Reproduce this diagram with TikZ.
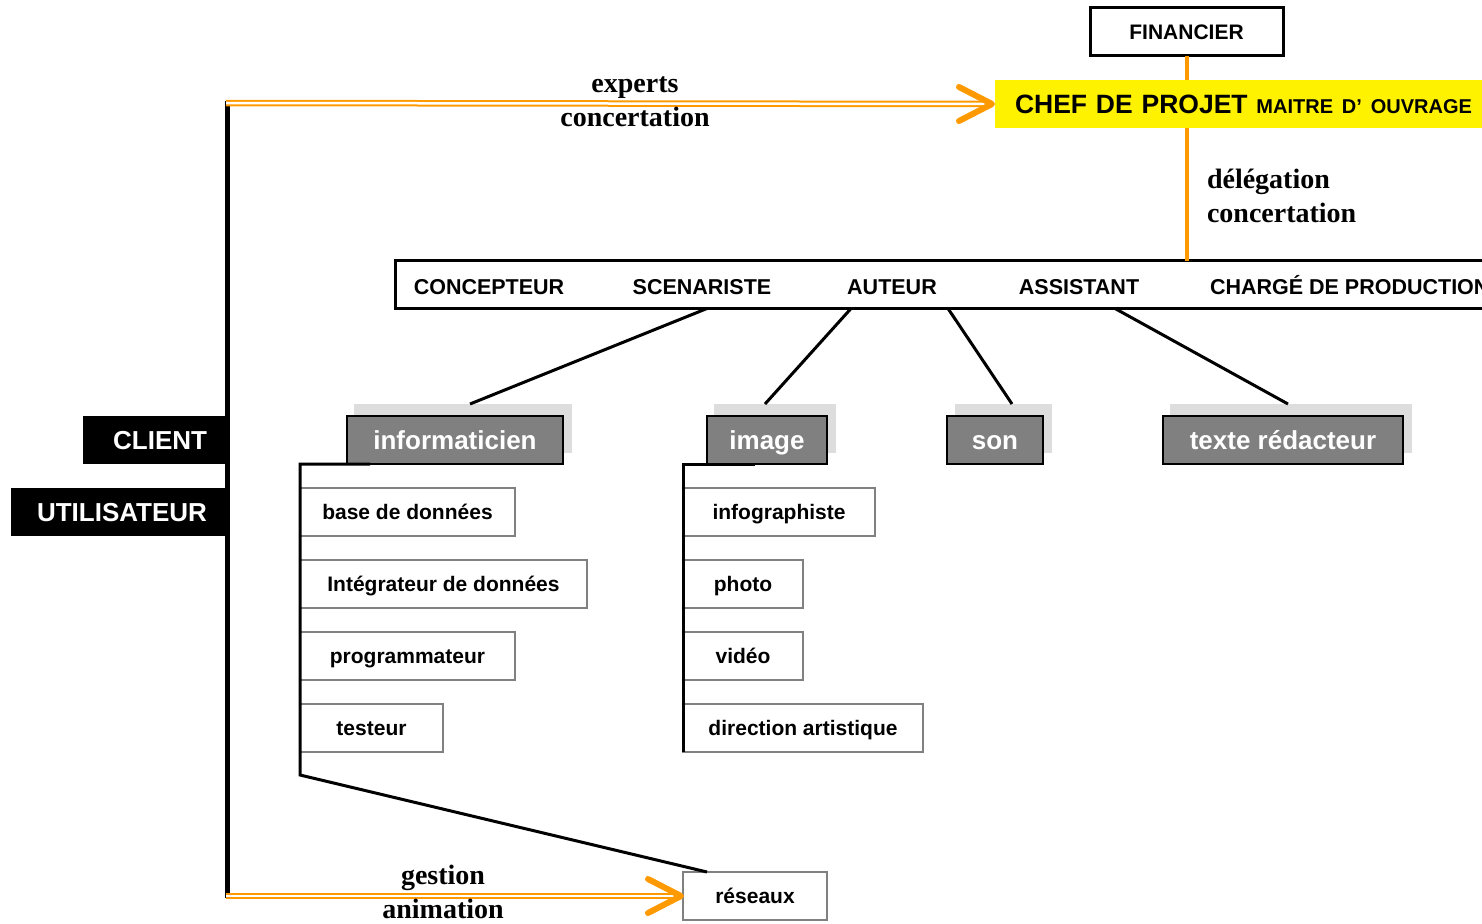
\documentclass[tikz,border=0pt]{standalone}
\usepackage{fontspec}
\setmainfont{Liberation Serif}
\setsansfont{Liberation Sans}
\definecolor{arrorange}{RGB}{255,153,0}
\definecolor{headgray}{RGB}{128,128,128}
\definecolor{shadowgray}{RGB}{221,221,221}
\definecolor{boxgray}{RGB}{128,128,128}
\begin{document}
\begin{tikzpicture}[x=1pt,y=-1pt,
  every node/.style={inner sep=0pt, outer sep=0pt},
  sansfont/.style={font=\sffamily\bfseries\fontsize{#1}{#1}\selectfont, text depth=0pt},
  blackbox/.style={fill=black, text=white, minimum height=48pt, sansfont=26, text height=19pt, align=right},
  topbox/.style={draw=black, line width=3pt, fill=white, minimum height=48pt, sansfont=21, text height=15.3pt},
  rolebar/.style={draw=black, line width=3pt, fill=white, minimum height=48pt},
  roletext/.style={sansfont=21.5, text height=15.7pt},
  headbox/.style={draw=black, line width=1.5pt, fill=headgray, text=white, minimum height=48pt, sansfont=26, text height=19pt},
  headshadow/.style={fill=shadowgray, minimum height=49pt},
  subbox/.style={draw=boxgray, line width=2pt, fill=white, minimum height=48pt, sansfont=21, text height=15.3pt},
  flowlabel/.style={font=\rmfamily\bfseries\fontsize{28}{30}\selectfont, text height=19.6pt, text depth=7pt},
  link/.style={draw=black, line width=3pt},
  spine/.style={draw=black, line width=5pt},
  orangelink/.style={draw=arrorange, line width=2pt, double=white, double distance=2.5pt},
  chevron/.style={draw=arrorange, line width=6pt, line cap=round, line join=round},
  orangeline/.style={draw=arrorange, line width=4pt}
]
\useasboundingbox (0,0) rectangle (1482,923);
\clip (0,0) rectangle (1482,923);

% --- top of the hierarchy ---
\node[topbox, minimum width=193pt] (financier) at (1186.5,32) {FINANCIER};
\node[anchor=west, fill=yellow, minimum height=48pt, inner xsep=20pt, text width=480pt, align=left,
      sansfont=26.5, text height=19.3pt] (chef) at (995,104)
  {CHEF DE PROJET {\fontsize{20}{20}\selectfont MAITRE D’ OUVRAGE}};

% --- role bar ---
\node[rolebar, minimum width=1100pt] (bar) at (945,284.5) {};
\node[roletext] (concepteur) at (489,287) {CONCEPTEUR};
\node[roletext] (scenariste) at (702,287) {SCENARISTE};
\node[roletext] (auteur) at (892,287) {AUTEUR};
\node[roletext] (assistant) at (1079,287) {ASSISTANT};
\node[roletext, anchor=west] (charge) at (1210,287) {CHARGÉ DE PRODUCTION};

% orange links through the chief box
\draw[orangeline] (financier.south) -- (financier.south |- chef.north);
\draw[orangeline] (financier.south |- chef.south) -- (financier.south |- bar.north);

\node[flowlabel, anchor=west] (deleg) at (1207,182) {délégation};
\node[flowlabel, anchor=west] (concert2) at (1207,216) {concertation};

% --- client side ---
\coordinate (spinetop) at (227,101);
\coordinate (spinebot) at (227,897.5);
\draw[spine] (spinetop) -- (spinebot);
\node[blackbox, minimum width=142pt, text width=106pt] (client) at (154,440) {CLIENT};
\node[blackbox, minimum width=214pt, text width=178pt] (utilisateur) at (118,512) {UTILISATEUR};

% --- heading boxes with their shadows ---
\node[headshadow, minimum width=218pt] (infoshadow) at (463,428.5) {};
\node[headshadow, minimum width=122pt] (imageshadow) at (775,428.5) {};
\node[headshadow, minimum width=97pt] (sonshadow) at (1003.5,428.5) {};
\node[headshadow, minimum width=242pt] (texteshadow) at (1291,428.5) {};

\path (bar.south west) ++(312,0) coordinate (b1);
\path (bar.south west) ++(456,0) coordinate (b2);
\path (bar.south west) ++(553,0) coordinate (b3);
\path (bar.south west) ++(720,0) coordinate (b4);
\draw[link] (b1) -- ([xshift=7pt]infoshadow.north);
\draw[link] (b2) -- ([xshift=-10pt]imageshadow.north);
\draw[link] (b3) -- ([xshift=8.5pt]sonshadow.north);
\draw[link] (b4) -- ([xshift=-3pt]texteshadow.north);

\node[headbox, minimum width=216pt] (info) at (455,440) {informaticien};
\node[headbox, minimum width=120pt] (image) at (767,440) {image};
\node[headbox, minimum width=96pt] (son) at (995,440) {son};
\node[headbox, minimum width=240pt] (texte) at (1283,440) {texte rédacteur};

% --- informaticien branch ---
\node[subbox, minimum width=215pt] (base) at (407.5,512) {base de données};
\node[subbox, minimum width=287pt] (integ) at (443.5,584) {Intégrateur de données};
\node[subbox, minimum width=215pt] (prog) at (407.5,656) {programmateur};
\node[subbox, minimum width=143pt] (test) at (371.5,728) {testeur};

% --- image branch ---
\node[subbox, minimum width=192pt] (infog) at (779,512) {infographiste};
\node[subbox, minimum width=120pt] (photo) at (743,584) {photo};
\node[subbox, minimum width=120pt] (video) at (743,656) {vidéo};
\node[subbox, minimum width=240pt] (direction) at (803,728) {direction artistique};

\node[subbox, minimum width=144pt] (reseaux) at (755,896) {réseaux};

% brackets
\coordinate (infocorner) at (300,775);
\draw[link] ([xshift=23pt]info.south west) -| (infocorner) -- ([xshift=24pt]reseaux.north west);
\coordinate (imgcorner) at (683,752);
\draw[link] ([xshift=48pt]image.south west) -| (imgcorner);

% --- orange flows from the client spine ---
\coordinate (exstart) at (226,103);
\draw[orangelink] (exstart) -- ([xshift=-5pt]chef.west);
\draw[chevron] ([shift={(-36,-17)}]chef.west) -- ([xshift=-3pt]chef.west) -- ([shift={(-36,17)}]chef.west);
\node[flowlabel] (experts) at (635,86) {experts};
\node[flowlabel] (concert1) at (635,120) {concertation};

\coordinate (gestart) at (226,896);
\draw[orangelink] (gestart) -- ([xshift=-5pt]reseaux.west);
\draw[chevron] ([shift={(-35,-17)}]reseaux.west) -- ([xshift=-2pt]reseaux.west) -- ([shift={(-35,17)}]reseaux.west);
\node[flowlabel] (gestion) at (443,878) {gestion};
\node[flowlabel] (animation) at (443,912) {animation};
\end{tikzpicture}
\end{document}
